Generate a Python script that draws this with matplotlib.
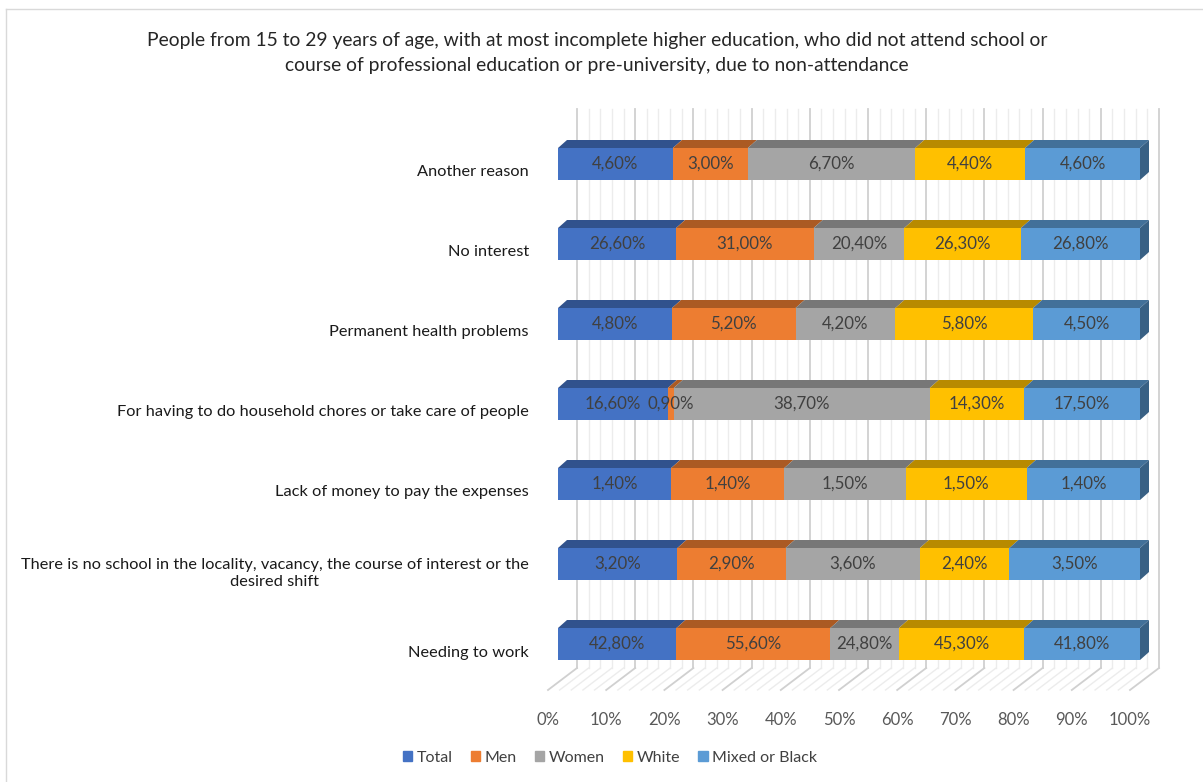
import matplotlib.pyplot as plt
from matplotlib.patches import Polygon, Patch
from matplotlib.lines import Line2D
import matplotlib.transforms as mtransforms
import numpy as np

plt.rcParams['font.family'] = ['Lato', 'DejaVu Sans']

categories = [
    'Needing to work',
    'There is no school in the locality, vacancy, the course of interest or the\ndesired shift',
    'Lack of money to pay the expenses',
    'For having to do household chores or take care of people',
    'Permanent health problems',
    'No interest',
    'Another reason',
]
series = ['Total', 'Men', 'Women', 'White', 'Mixed or Black']
total = [42.8, 3.2, 1.4, 16.6, 4.8, 26.6, 4.6]
men = [55.6, 2.9, 1.4, 0.9, 5.2, 31.0, 3.0]
women = [24.8, 3.6, 1.5, 38.7, 4.2, 20.4, 6.7]
white = [45.3, 2.4, 1.5, 14.3, 5.8, 26.3, 4.4]
mixed = [41.8, 3.5, 1.4, 17.5, 4.5, 26.8, 4.6]
colors = ['#4472C4', '#ED7D31', '#A5A5A5', '#FFC000', '#5B9BD5']

W, H = 1203, 782
fig = plt.figure(figsize=(W / 100, H / 100), dpi=100)

# axes placed in pixels: x 0..100 -> 558..1140, y -0.5..6.5 -> 684..124
ax_l, ax_r, ax_t, ax_b = 558, 1140, 124, 684
ax = fig.add_axes([ax_l / W, 1 - ax_b / H, (ax_r - ax_l) / W, (ax_b - ax_t) / H])
ax.set_xlim(0, 100)
ax.set_ylim(-0.5, 6.5)
for s in ax.spines.values():
    s.set_visible(False)

sx = 100 / (ax_r - ax_l)   # data per pixel
sy = 7 / (ax_b - ax_t)

def shade(c, f):
    r, g, b = [int(c[i:i + 2], 16) / 255 for i in (1, 3, 5)]
    return (r * f, g * f, b * f)

# back wall and floor
wall_dx, wall_dy = 19 * sx, 14 * sy
front_dx, front_dy = -10 * sx, -8 * sy
y_floor, y_top = -0.475, 6.51
for v in np.arange(0, 101, 2):
    major = v % 10 == 0
    col = '#d0d0d0' if major else '#ececec'
    lw = 1.3 if major else 1
    ax.add_line(Line2D([v + wall_dx, v + wall_dx], [y_floor + wall_dy, y_top + wall_dy],
                       color=col, lw=lw, zorder=0, clip_on=False))
    ax.add_line(Line2D([v + wall_dx, v + front_dx], [y_floor + wall_dy, y_floor + front_dy],
                       color=col, lw=lw, zorder=0, clip_on=False))

# 100% stacked bars
data = np.array([total, men, women, white, mixed])
pct = data / data.sum(axis=0) * 100
y = np.arange(len(categories))
h = 0.4
bdx, bdy = 9 * sx, 8 * sy
left = np.zeros(len(categories))
for k in range(len(series)):
    ax.barh(y, pct[k], left=left, height=h, color=colors[k], zorder=2)
    for i in range(len(categories)):
        l, r = left[i], left[i] + pct[k][i]
        top = y[i] + h / 2
        ax.add_patch(Polygon([(l, top), (r, top), (r + bdx, top + bdy), (l + bdx, top + bdy)],
                             closed=True, color=shade(colors[k], 0.72), zorder=2, lw=0,
                             clip_on=False))
        if k == len(series) - 1:
            bot = y[i] - h / 2
            ax.add_patch(Polygon([(r, bot), (r, top), (r + bdx, top + bdy), (r + bdx, bot + bdy)],
                                 closed=True, color=shade(colors[k], 0.62), zorder=2, lw=0,
                                 clip_on=False))
        ax.text((l + r) / 2, y[i], f'{data[k][i]:.2f}%'.replace('.', ','),
                ha='center', va='center', fontsize=12.2, color='#404040', zorder=3)
    left = left + pct[k]

# ticks
ax.tick_params(length=0)
ax.set_xticks(range(0, 101, 10))
ax.set_xticklabels([f'{v}%' for v in range(0, 101, 10)], fontsize=12, color='#595959')
ax.tick_params(axis='x', pad=20)
off_x = mtransforms.ScaledTranslation(-10 / 100, 0, fig.dpi_scale_trans)
for lab in ax.get_xticklabels():
    lab.set_transform(lab.get_transform() + off_x)
ax.set_yticks(y)
ax.set_yticklabels(categories, fontsize=11.8, color='#1a1a1a', multialignment='center')
ax.tick_params(axis='y', pad=21)
off_y = mtransforms.ScaledTranslation(0, -7 / 100, fig.dpi_scale_trans)
for lab in ax.get_yticklabels():
    lab.set_transform(lab.get_transform() + off_y)

fig.text(597 / W, 1 - 53 / H,
         'People from 15 to 29 years of age, with at most incomplete higher education, who did not attend school or\n'
         'course of professional education or pre-university, due to non-attendance',
         ha='center', va='center', fontsize=13.9, color='#262626', linespacing=1.55)

handles = [Patch(color=c) for c in colors]
fig.legend(handles, series, loc='center', bbox_to_anchor=(610 / W, 1 - 758 / H), ncol=5,
           frameon=False, handlelength=0.6, handleheight=0.6, handletextpad=0.3,
           columnspacing=1.1, fontsize=11.5, labelcolor='#404040')

# chart border (top and left visible)
fig.add_artist(Line2D([6 / W, 6 / W], [0, 1 - 9 / H], transform=fig.transFigure, color='#d9d9d9', lw=1))
fig.add_artist(Line2D([6 / W, 1], [1 - 9 / H, 1 - 9 / H], transform=fig.transFigure, color='#d9d9d9', lw=1))

fig.savefig('out.png', dpi=100)
